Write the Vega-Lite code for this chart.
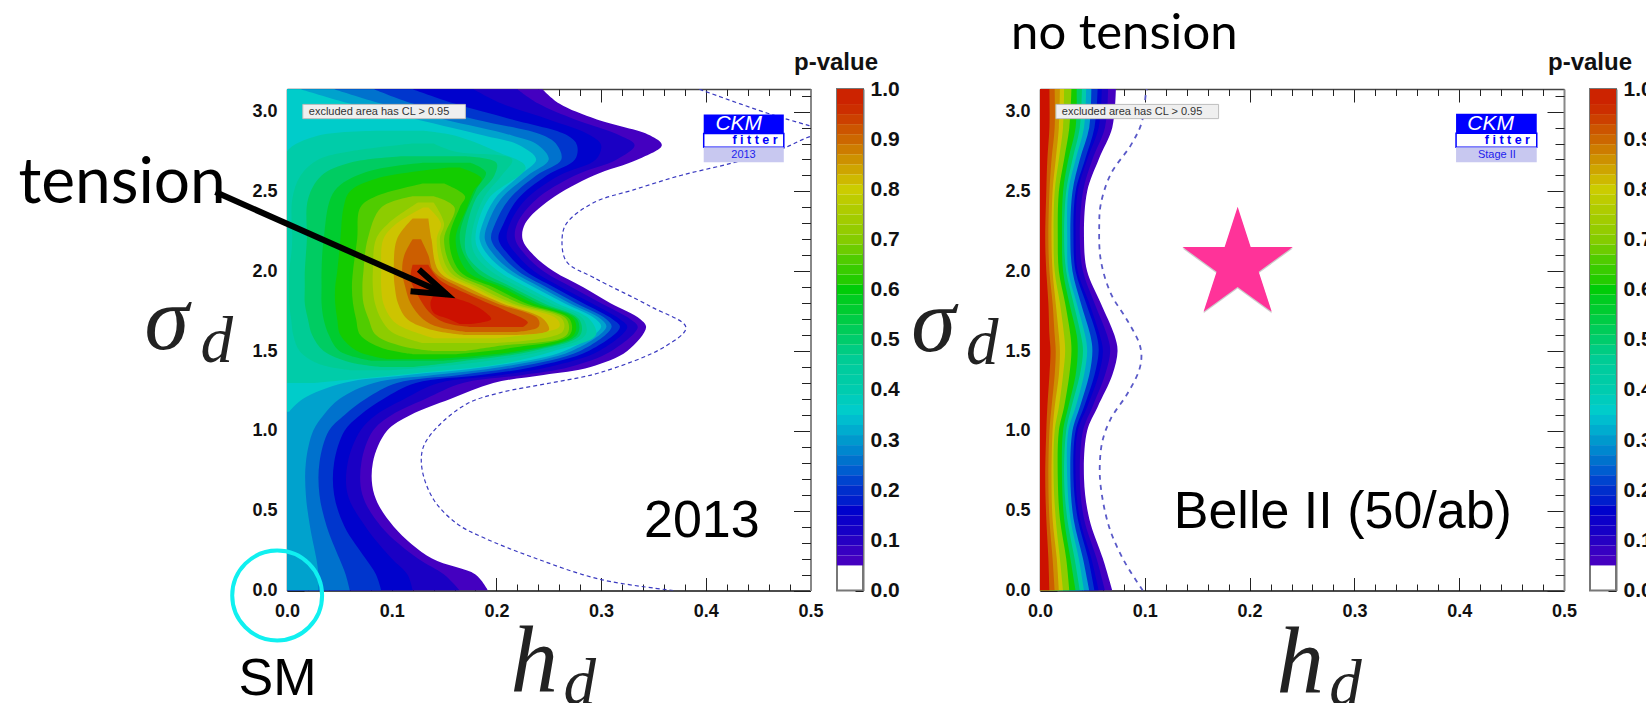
{"$schema":"https://vega.github.io/schema/vega-lite/v6.json","background":"white","autosize":{"type":"pad"},"padding":{"left":18,"top":10,"right":0,"bottom":0},
"config":{"view":{"stroke":null},"axis":{"grid":false,"title":null,"labelFont":"Liberation Sans","labelFontWeight":"bold","labelFontSize":18,"labelColor":"#111","tickColor":"#222","domainColor":"#444","domainWidth":1.5,"labelOverlap":false,"labelBound":false,"labelFlush":false,"zindex":1}},
"datasets":{
"levelsL":[
{"p":0.05,"y":3.14,"a":0,"b":0.244},{"p":0.05,"y":3.05,"a":0,"b":0.26},{"p":0.05,"y":2.95,"a":0,"b":0.296},{"p":0.05,"y":2.85,"a":0,"b":0.347},{"p":0.05,"y":2.79,"a":0,"b":0.358},{"p":0.05,"y":2.7,"a":0,"b":0.335},{"p":0.05,"y":2.6,"a":0,"b":0.293},{"p":0.05,"y":2.45,"a":0,"b":0.2515},{"p":0.05,"y":2.3,"a":0,"b":0.2276},{"p":0.05,"y":2.2,"a":0,"b":0.225},{"p":0.05,"y":2.1,"a":0,"b":0.2356},{"p":0.05,"y":2,"a":0,"b":0.2547},{"p":0.05,"y":1.9,"a":0,"b":0.283},{"p":0.05,"y":1.8,"a":0,"b":0.309},{"p":0.05,"y":1.7,"a":0,"b":0.3375},{"p":0.05,"y":1.65,"a":0,"b":0.343},{"p":0.05,"y":1.5,"a":0,"b":0.325},{"p":0.05,"y":1.4,"a":0,"b":0.29},{"p":0.05,"y":1.35,"a":0,"b":0.245},{"p":0.05,"y":1.3,"a":0,"b":0.197},{"p":0.05,"y":1.2,"a":0,"b":0.156},{"p":0.05,"y":1.1,"a":0,"b":0.118},{"p":0.05,"y":1,"a":0,"b":0.0955},{"p":0.05,"y":0.8,"a":0,"b":0.082},{"p":0.05,"y":0.6,"a":0,"b":0.0834},{"p":0.05,"y":0.4,"a":0,"b":0.102},{"p":0.05,"y":0.2,"a":0,"b":0.1385},{"p":0.05,"y":0.1,"a":0,"b":0.18},{"p":0.05,"y":0,"a":0,"b":0.192},
{"p":0.1,"y":3.14,"a":0,"b":0.22},{"p":0.1,"y":3.05,"a":0,"b":0.24},{"p":0.1,"y":2.95,"a":0,"b":0.275},{"p":0.1,"y":2.85,"a":0,"b":0.318},{"p":0.1,"y":2.79,"a":0,"b":0.332},{"p":0.1,"y":2.7,"a":0,"b":0.315},{"p":0.1,"y":2.6,"a":0,"b":0.275},{"p":0.1,"y":2.45,"a":0,"b":0.238},{"p":0.1,"y":2.3,"a":0,"b":0.22},{"p":0.1,"y":2.2,"a":0,"b":0.218},{"p":0.1,"y":2.1,"a":0,"b":0.228},{"p":0.1,"y":2,"a":0,"b":0.245},{"p":0.1,"y":1.9,"a":0,"b":0.272},{"p":0.1,"y":1.8,"a":0,"b":0.3},{"p":0.1,"y":1.7,"a":0,"b":0.328},{"p":0.1,"y":1.65,"a":0,"b":0.335},{"p":0.1,"y":1.5,"a":0,"b":0.31},{"p":0.1,"y":1.4,"a":0,"b":0.27},{"p":0.1,"y":1.35,"a":0,"b":0.225},{"p":0.1,"y":1.3,"a":0,"b":0.168},{"p":0.1,"y":1.2,"a":0,"b":0.132},{"p":0.1,"y":1.1,"a":0,"b":0.1},{"p":0.1,"y":1,"a":0,"b":0.082},{"p":0.1,"y":0.8,"a":0,"b":0.071},{"p":0.1,"y":0.6,"a":0,"b":0.072},{"p":0.1,"y":0.4,"a":0,"b":0.09},{"p":0.1,"y":0.2,"a":0,"b":0.125},{"p":0.1,"y":0.1,"a":0,"b":0.15},{"p":0.1,"y":0,"a":0,"b":0.165},
{"p":0.15,"y":3.14,"a":0,"b":0.178},{"p":0.15,"y":3.05,"a":0,"b":0.205},{"p":0.15,"y":2.95,"a":0,"b":0.25},{"p":0.15,"y":2.85,"a":0,"b":0.29},{"p":0.15,"y":2.79,"a":0,"b":0.3},{"p":0.15,"y":2.7,"a":0,"b":0.295},{"p":0.15,"y":2.6,"a":0,"b":0.26},{"p":0.15,"y":2.45,"a":0,"b":0.228},{"p":0.15,"y":2.3,"a":0,"b":0.213},{"p":0.15,"y":2.2,"a":0,"b":0.21},{"p":0.15,"y":2.1,"a":0,"b":0.22},{"p":0.15,"y":2,"a":0,"b":0.236},{"p":0.15,"y":1.9,"a":0,"b":0.262},{"p":0.15,"y":1.8,"a":0,"b":0.291},{"p":0.15,"y":1.7,"a":0,"b":0.318},{"p":0.15,"y":1.65,"a":0,"b":0.325},{"p":0.15,"y":1.5,"a":0,"b":0.298},{"p":0.15,"y":1.4,"a":0,"b":0.25},{"p":0.15,"y":1.35,"a":0,"b":0.205},{"p":0.15,"y":1.3,"a":0,"b":0.145},{"p":0.15,"y":1.2,"a":0,"b":0.112},{"p":0.15,"y":1.1,"a":0,"b":0.085},{"p":0.15,"y":1,"a":0,"b":0.07},{"p":0.15,"y":0.8,"a":0,"b":0.058},{"p":0.15,"y":0.6,"a":0,"b":0.058},{"p":0.15,"y":0.4,"a":0,"b":0.075},{"p":0.15,"y":0.2,"a":0,"b":0.1},{"p":0.15,"y":0.1,"a":0,"b":0.115},{"p":0.15,"y":0,"a":0,"b":0.12},
{"p":0.2,"y":3.14,"a":0,"b":0.12},{"p":0.2,"y":3.05,"a":0,"b":0.16},{"p":0.2,"y":2.95,"a":0,"b":0.215},{"p":0.2,"y":2.85,"a":0,"b":0.268},{"p":0.2,"y":2.79,"a":0,"b":0.277},{"p":0.2,"y":2.7,"a":0,"b":0.275},{"p":0.2,"y":2.6,"a":0,"b":0.248},{"p":0.2,"y":2.45,"a":0,"b":0.22},{"p":0.2,"y":2.3,"a":0,"b":0.207},{"p":0.2,"y":2.2,"a":0,"b":0.202},{"p":0.2,"y":2.1,"a":0,"b":0.212},{"p":0.2,"y":2,"a":0,"b":0.228},{"p":0.2,"y":1.9,"a":0,"b":0.255},{"p":0.2,"y":1.8,"a":0,"b":0.283},{"p":0.2,"y":1.7,"a":0,"b":0.311},{"p":0.2,"y":1.65,"a":0,"b":0.318},{"p":0.2,"y":1.5,"a":0,"b":0.288},{"p":0.2,"y":1.4,"a":0,"b":0.235},{"p":0.2,"y":1.35,"a":0,"b":0.185},{"p":0.2,"y":1.3,"a":0,"b":0.123},{"p":0.2,"y":1.2,"a":0,"b":0.092},{"p":0.2,"y":1.1,"a":0,"b":0.07},{"p":0.2,"y":1,"a":0,"b":0.055},{"p":0.2,"y":0.8,"a":0,"b":0.045},{"p":0.2,"y":0.6,"a":0,"b":0.045},{"p":0.2,"y":0.4,"a":0,"b":0.055},{"p":0.2,"y":0.2,"a":0,"b":0.075},{"p":0.2,"y":0.1,"a":0,"b":0.085},{"p":0.2,"y":0,"a":0,"b":0.09},
{"p":0.25,"y":3.14,"a":0,"b":0.083},{"p":0.25,"y":3.05,"a":0,"b":0.12},{"p":0.25,"y":2.95,"a":0,"b":0.18},{"p":0.25,"y":2.85,"a":0,"b":0.245},{"p":0.25,"y":2.79,"a":0,"b":0.258},{"p":0.25,"y":2.7,"a":0,"b":0.262},{"p":0.25,"y":2.6,"a":0,"b":0.238},{"p":0.25,"y":2.45,"a":0,"b":0.212},{"p":0.25,"y":2.3,"a":0,"b":0.199},{"p":0.25,"y":2.2,"a":0,"b":0.195},{"p":0.25,"y":2.1,"a":0,"b":0.205},{"p":0.25,"y":2,"a":0,"b":0.221},{"p":0.25,"y":1.9,"a":0,"b":0.248},{"p":0.25,"y":1.8,"a":0,"b":0.276},{"p":0.25,"y":1.7,"a":0,"b":0.305},{"p":0.25,"y":1.65,"a":0,"b":0.31},{"p":0.25,"y":1.5,"a":0,"b":0.28},{"p":0.25,"y":1.4,"a":0,"b":0.22},{"p":0.25,"y":1.35,"a":0,"b":0.165},{"p":0.25,"y":1.3,"a":0,"b":0.105},{"p":0.25,"y":1.2,"a":0,"b":0.075},{"p":0.25,"y":1.1,"a":0,"b":0.055},{"p":0.25,"y":1,"a":0,"b":0.04},{"p":0.25,"y":0.8,"a":0,"b":0.031},{"p":0.25,"y":0.6,"a":0,"b":0.031},{"p":0.25,"y":0.4,"a":0,"b":0.038},{"p":0.25,"y":0.2,"a":0,"b":0.05},{"p":0.25,"y":0.1,"a":0,"b":0.056},{"p":0.25,"y":0,"a":0,"b":0.06},
{"p":0.3,"y":3.14,"a":0,"b":0.045},{"p":0.3,"y":3.05,"a":0,"b":0.09},{"p":0.3,"y":2.95,"a":0,"b":0.15},{"p":0.3,"y":2.85,"a":0,"b":0.215},{"p":0.3,"y":2.79,"a":0,"b":0.24},{"p":0.3,"y":2.7,"a":0,"b":0.25},{"p":0.3,"y":2.6,"a":0,"b":0.23},{"p":0.3,"y":2.45,"a":0,"b":0.204},{"p":0.3,"y":2.3,"a":0,"b":0.192},{"p":0.3,"y":2.2,"a":0,"b":0.189},{"p":0.3,"y":2.1,"a":0,"b":0.198},{"p":0.3,"y":2,"a":0,"b":0.215},{"p":0.3,"y":1.9,"a":0,"b":0.242},{"p":0.3,"y":1.8,"a":0,"b":0.27},{"p":0.3,"y":1.7,"a":0,"b":0.3},{"p":0.3,"y":1.65,"a":0,"b":0.305},{"p":0.3,"y":1.5,"a":0,"b":0.272},{"p":0.3,"y":1.4,"a":0,"b":0.205},{"p":0.3,"y":1.35,"a":0,"b":0.14},{"p":0.3,"y":1.3,"a":0,"b":0.083},{"p":0.3,"y":1.2,"a":0,"b":0.05},{"p":0.3,"y":1.1,"a":0,"b":0.035},{"p":0.3,"y":1,"a":0,"b":0.025},{"p":0.3,"y":0.8,"a":0,"b":0.018},{"p":0.3,"y":0.6,"a":0,"b":0.018},{"p":0.3,"y":0.4,"a":0,"b":0.022},{"p":0.3,"y":0.2,"a":0,"b":0.028},{"p":0.3,"y":0.1,"a":0,"b":0.03},{"p":0.3,"y":0,"a":0,"b":0.03},
{"p":0.35,"y":3.14,"a":0,"b":0.013},{"p":0.35,"y":3.05,"a":0,"b":0.06},{"p":0.35,"y":2.95,"a":0,"b":0.124},{"p":0.35,"y":2.85,"a":0,"b":0.188},{"p":0.35,"y":2.79,"a":0,"b":0.222},{"p":0.35,"y":2.7,"a":0,"b":0.238},{"p":0.35,"y":2.6,"a":0,"b":0.222},{"p":0.35,"y":2.45,"a":0,"b":0.198},{"p":0.35,"y":2.3,"a":0,"b":0.187},{"p":0.35,"y":2.2,"a":0,"b":0.184},{"p":0.35,"y":2.1,"a":0,"b":0.192},{"p":0.35,"y":2,"a":0,"b":0.209},{"p":0.35,"y":1.9,"a":0,"b":0.236},{"p":0.35,"y":1.8,"a":0,"b":0.265},{"p":0.35,"y":1.7,"a":0,"b":0.295},{"p":0.35,"y":1.65,"a":0,"b":0.3},{"p":0.35,"y":1.5,"a":0,"b":0.265},{"p":0.35,"y":1.4,"a":0,"b":0.19},{"p":0.35,"y":1.35,"a":0,"b":0.115},{"p":0.35,"y":1.3,"a":0,"b":0.054},{"p":0.35,"y":1.2,"a":0,"b":0.015},{"p":0.35,"y":1.12,"a":0,"b":0.002},
{"p":0.4,"y":2.88,"a":0.1,"b":0.13},{"p":0.4,"y":2.85,"a":0.03,"b":0.16},{"p":0.4,"y":2.75,"a":0,"b":0.2},{"p":0.4,"y":2.65,"a":0,"b":0.228},{"p":0.4,"y":2.45,"a":0,"b":0.192},{"p":0.4,"y":2.2,"a":0,"b":0.18},{"p":0.4,"y":2.1,"a":0,"b":0.186},{"p":0.4,"y":2,"a":0,"b":0.202},{"p":0.4,"y":1.9,"a":0,"b":0.229},{"p":0.4,"y":1.8,"a":0,"b":0.258},{"p":0.4,"y":1.7,"a":0,"b":0.289},{"p":0.4,"y":1.6,"a":0,"b":0.295},{"p":0.4,"y":1.5,"a":0,"b":0.255},{"p":0.4,"y":1.42,"a":0,"b":0.205},{"p":0.4,"y":1.36,"a":0,"b":0.12},{"p":0.4,"y":1.3,"a":0,"b":0.025},
{"p":0.45,"y":2.8,"a":0.12,"b":0.14},{"p":0.45,"y":2.75,"a":0.06,"b":0.16},{"p":0.45,"y":2.7,"a":0.03,"b":0.215},{"p":0.45,"y":2.6,"a":0.013,"b":0.205},{"p":0.45,"y":2.45,"a":0.005,"b":0.187},{"p":0.45,"y":2.2,"a":0.005,"b":0.176},{"p":0.45,"y":2.1,"a":0.004,"b":0.18},{"p":0.45,"y":2,"a":0.002,"b":0.195},{"p":0.45,"y":1.9,"a":0.002,"b":0.222},{"p":0.45,"y":1.8,"a":0.002,"b":0.252},{"p":0.45,"y":1.7,"a":0.004,"b":0.283},{"p":0.45,"y":1.6,"a":0.006,"b":0.285},{"p":0.45,"y":1.5,"a":0.012,"b":0.245},{"p":0.45,"y":1.42,"a":0.03,"b":0.17},{"p":0.45,"y":1.38,"a":0.06,"b":0.1},
{"p":0.5,"y":2.72,"a":0.11,"b":0.17},{"p":0.5,"y":2.68,"a":0.06,"b":0.2},{"p":0.5,"y":2.6,"a":0.033,"b":0.198},{"p":0.5,"y":2.45,"a":0.02,"b":0.18},{"p":0.5,"y":2.2,"a":0.019,"b":0.17},{"p":0.5,"y":2.1,"a":0.018,"b":0.172},{"p":0.5,"y":2,"a":0.017,"b":0.186},{"p":0.5,"y":1.9,"a":0.017,"b":0.215},{"p":0.5,"y":1.8,"a":0.017,"b":0.245},{"p":0.5,"y":1.7,"a":0.02,"b":0.279},{"p":0.5,"y":1.6,"a":0.024,"b":0.28},{"p":0.5,"y":1.5,"a":0.035,"b":0.235},{"p":0.5,"y":1.43,"a":0.06,"b":0.16},{"p":0.5,"y":1.4,"a":0.09,"b":0.12},
{"p":0.55,"y":2.68,"a":0.13,"b":0.175},{"p":0.55,"y":2.62,"a":0.075,"b":0.19},{"p":0.55,"y":2.5,"a":0.045,"b":0.18},{"p":0.55,"y":2.2,"a":0.035,"b":0.165},{"p":0.55,"y":2,"a":0.033,"b":0.18},{"p":0.55,"y":1.9,"a":0.033,"b":0.21},{"p":0.55,"y":1.8,"a":0.033,"b":0.24},{"p":0.55,"y":1.7,"a":0.035,"b":0.277},{"p":0.55,"y":1.6,"a":0.04,"b":0.277},{"p":0.55,"y":1.5,"a":0.05,"b":0.228},{"p":0.55,"y":1.44,"a":0.08,"b":0.15},
{"p":0.6,"y":2.65,"a":0.155,"b":0.165},{"p":0.6,"y":2.58,"a":0.085,"b":0.186},{"p":0.6,"y":2.5,"a":0.06,"b":0.178},{"p":0.6,"y":2.4,"a":0.054,"b":0.172},{"p":0.6,"y":2.2,"a":0.051,"b":0.161},{"p":0.6,"y":2,"a":0.048,"b":0.172},{"p":0.6,"y":1.9,"a":0.046,"b":0.205},{"p":0.6,"y":1.8,"a":0.046,"b":0.235},{"p":0.6,"y":1.7,"a":0.048,"b":0.274},{"p":0.6,"y":1.6,"a":0.051,"b":0.274},{"p":0.6,"y":1.5,"a":0.067,"b":0.22},{"p":0.6,"y":1.45,"a":0.095,"b":0.14},
{"p":0.65,"y":2.55,"a":0.13,"b":0.15},{"p":0.65,"y":2.47,"a":0.085,"b":0.17},{"p":0.65,"y":2.4,"a":0.07,"b":0.165},{"p":0.65,"y":2.2,"a":0.067,"b":0.155},{"p":0.65,"y":2,"a":0.063,"b":0.165},{"p":0.65,"y":1.9,"a":0.062,"b":0.197},{"p":0.65,"y":1.8,"a":0.063,"b":0.228},{"p":0.65,"y":1.7,"a":0.066,"b":0.27},{"p":0.65,"y":1.6,"a":0.07,"b":0.27},{"p":0.65,"y":1.52,"a":0.09,"b":0.215},{"p":0.65,"y":1.48,"a":0.12,"b":0.16},
{"p":0.7,"y":2.47,"a":0.12,"b":0.14},{"p":0.7,"y":2.4,"a":0.09,"b":0.16},{"p":0.7,"y":2.2,"a":0.077,"b":0.15},{"p":0.7,"y":2,"a":0.073,"b":0.16},{"p":0.7,"y":1.9,"a":0.072,"b":0.19},{"p":0.7,"y":1.8,"a":0.073,"b":0.222},{"p":0.7,"y":1.7,"a":0.078,"b":0.267},{"p":0.7,"y":1.6,"a":0.085,"b":0.267},{"p":0.7,"y":1.53,"a":0.11,"b":0.2},{"p":0.7,"y":1.5,"a":0.14,"b":0.17},
{"p":0.75,"y":2.43,"a":0.125,"b":0.14},{"p":0.75,"y":2.3,"a":0.097,"b":0.15},{"p":0.75,"y":2.2,"a":0.085,"b":0.146},{"p":0.75,"y":2,"a":0.082,"b":0.155},{"p":0.75,"y":1.9,"a":0.082,"b":0.183},{"p":0.75,"y":1.8,"a":0.084,"b":0.215},{"p":0.75,"y":1.7,"a":0.09,"b":0.263},{"p":0.75,"y":1.62,"a":0.1,"b":0.263},{"p":0.75,"y":1.55,"a":0.13,"b":0.2},
{"p":0.8,"y":2.4,"a":0.13,"b":0.135},{"p":0.8,"y":2.3,"a":0.105,"b":0.147},{"p":0.8,"y":2.2,"a":0.092,"b":0.143},{"p":0.8,"y":2,"a":0.09,"b":0.15},{"p":0.8,"y":1.9,"a":0.09,"b":0.178},{"p":0.8,"y":1.8,"a":0.092,"b":0.21},{"p":0.8,"y":1.7,"a":0.1,"b":0.258},{"p":0.8,"y":1.65,"a":0.11,"b":0.26},{"p":0.8,"y":1.58,"a":0.14,"b":0.2},
{"p":0.85,"y":2.33,"a":0.12,"b":0.135},{"p":0.85,"y":2.2,"a":0.105,"b":0.138},{"p":0.85,"y":2,"a":0.102,"b":0.145},{"p":0.85,"y":1.9,"a":0.103,"b":0.172},{"p":0.85,"y":1.8,"a":0.106,"b":0.205},{"p":0.85,"y":1.7,"a":0.115,"b":0.245},{"p":0.85,"y":1.63,"a":0.14,"b":0.25},{"p":0.85,"y":1.6,"a":0.17,"b":0.21},
{"p":0.9,"y":2.2,"a":0.12,"b":0.128},{"p":0.9,"y":2.1,"a":0.112,"b":0.135},{"p":0.9,"y":2,"a":0.11,"b":0.14},{"p":0.9,"y":1.9,"a":0.113,"b":0.165},{"p":0.9,"y":1.8,"a":0.118,"b":0.2},{"p":0.9,"y":1.7,"a":0.13,"b":0.24},{"p":0.9,"y":1.65,"a":0.145,"b":0.24},{"p":0.9,"y":1.62,"a":0.17,"b":0.22},
{"p":0.95,"y":2.04,"a":0.12,"b":0.135},{"p":0.95,"y":1.95,"a":0.118,"b":0.145},{"p":0.95,"y":1.85,"a":0.125,"b":0.175},{"p":0.95,"y":1.75,"a":0.135,"b":0.21},{"p":0.95,"y":1.68,"a":0.15,"b":0.23},{"p":0.95,"y":1.65,"a":0.175,"b":0.225},
{"p":0.99,"y":1.85,"a":0.14,"b":0.15},{"p":0.99,"y":1.8,"a":0.137,"b":0.175},{"p":0.99,"y":1.74,"a":0.14,"b":0.19},{"p":0.99,"y":1.7,"a":0.155,"b":0.195},{"p":0.99,"y":1.67,"a":0.165,"b":0.175}
],
"levelsR":[
{"p":0.05,"y":3.1416,"b":0.0724},{"p":0.05,"y":2.9,"b":0.069},{"p":0.05,"y":2.7,"b":0.056},{"p":0.05,"y":2.5,"b":0.045},{"p":0.05,"y":2.2,"b":0.042},{"p":0.05,"y":2,"b":0.045},{"p":0.05,"y":1.8,"b":0.058},{"p":0.05,"y":1.6,"b":0.071},{"p":0.05,"y":1.5,"b":0.074},{"p":0.05,"y":1.35,"b":0.069},{"p":0.05,"y":1.15,"b":0.055},{"p":0.05,"y":1,"b":0.045},{"p":0.05,"y":0.7,"b":0.042},{"p":0.05,"y":0.45,"b":0.047},{"p":0.05,"y":0.2,"b":0.06},{"p":0.05,"y":0,"b":0.069},
{"p":0.1,"y":3.1416,"b":0.065},{"p":0.1,"y":2.9,"b":0.062},{"p":0.1,"y":2.7,"b":0.05},{"p":0.1,"y":2.5,"b":0.041},{"p":0.1,"y":2.2,"b":0.038},{"p":0.1,"y":2,"b":0.041},{"p":0.1,"y":1.8,"b":0.052},{"p":0.1,"y":1.6,"b":0.064},{"p":0.1,"y":1.5,"b":0.067},{"p":0.1,"y":1.35,"b":0.062},{"p":0.1,"y":1.15,"b":0.05},{"p":0.1,"y":1,"b":0.041},{"p":0.1,"y":0.7,"b":0.038},{"p":0.1,"y":0.45,"b":0.042},{"p":0.1,"y":0.2,"b":0.054},{"p":0.1,"y":0,"b":0.062},
{"p":0.15,"y":3.1416,"b":0.059},{"p":0.15,"y":2.9,"b":0.056},{"p":0.15,"y":2.7,"b":0.045},{"p":0.15,"y":2.5,"b":0.036},{"p":0.15,"y":2.2,"b":0.034},{"p":0.15,"y":2,"b":0.036},{"p":0.15,"y":1.8,"b":0.047},{"p":0.15,"y":1.6,"b":0.057},{"p":0.15,"y":1.5,"b":0.06},{"p":0.15,"y":1.35,"b":0.056},{"p":0.15,"y":1.15,"b":0.045},{"p":0.15,"y":1,"b":0.036},{"p":0.15,"y":0.7,"b":0.034},{"p":0.15,"y":0.45,"b":0.038},{"p":0.15,"y":0.2,"b":0.049},{"p":0.15,"y":0,"b":0.056},
{"p":0.2,"y":3.1416,"b":0.055},{"p":0.2,"y":2.9,"b":0.052},{"p":0.2,"y":2.7,"b":0.043},{"p":0.2,"y":2.5,"b":0.034},{"p":0.2,"y":2.2,"b":0.032},{"p":0.2,"y":2,"b":0.034},{"p":0.2,"y":1.8,"b":0.044},{"p":0.2,"y":1.6,"b":0.054},{"p":0.2,"y":1.5,"b":0.056},{"p":0.2,"y":1.35,"b":0.052},{"p":0.2,"y":1.15,"b":0.042},{"p":0.2,"y":1,"b":0.034},{"p":0.2,"y":0.7,"b":0.032},{"p":0.2,"y":0.45,"b":0.036},{"p":0.2,"y":0.2,"b":0.046},{"p":0.2,"y":0,"b":0.052},
{"p":0.3,"y":3.1416,"b":0.049},{"p":0.3,"y":2.9,"b":0.047},{"p":0.3,"y":2.7,"b":0.038},{"p":0.3,"y":2.5,"b":0.031},{"p":0.3,"y":2.2,"b":0.029},{"p":0.3,"y":2,"b":0.031},{"p":0.3,"y":1.8,"b":0.039},{"p":0.3,"y":1.6,"b":0.048},{"p":0.3,"y":1.5,"b":0.05},{"p":0.3,"y":1.35,"b":0.047},{"p":0.3,"y":1.15,"b":0.038},{"p":0.3,"y":1,"b":0.031},{"p":0.3,"y":0.7,"b":0.029},{"p":0.3,"y":0.45,"b":0.032},{"p":0.3,"y":0.2,"b":0.041},{"p":0.3,"y":0,"b":0.047},
{"p":0.4,"y":3.1416,"b":0.044},{"p":0.4,"y":2.9,"b":0.042},{"p":0.4,"y":2.7,"b":0.034},{"p":0.4,"y":2.5,"b":0.027},{"p":0.4,"y":2.2,"b":0.026},{"p":0.4,"y":2,"b":0.027},{"p":0.4,"y":1.8,"b":0.035},{"p":0.4,"y":1.6,"b":0.043},{"p":0.4,"y":1.5,"b":0.045},{"p":0.4,"y":1.35,"b":0.042},{"p":0.4,"y":1.15,"b":0.034},{"p":0.4,"y":1,"b":0.027},{"p":0.4,"y":0.7,"b":0.026},{"p":0.4,"y":0.45,"b":0.029},{"p":0.4,"y":0.2,"b":0.037},{"p":0.4,"y":0,"b":0.042},
{"p":0.5,"y":3.1416,"b":0.04},{"p":0.5,"y":2.9,"b":0.038},{"p":0.5,"y":2.7,"b":0.031},{"p":0.5,"y":2.5,"b":0.025},{"p":0.5,"y":2.2,"b":0.023},{"p":0.5,"y":2,"b":0.025},{"p":0.5,"y":1.8,"b":0.032},{"p":0.5,"y":1.6,"b":0.039},{"p":0.5,"y":1.5,"b":0.041},{"p":0.5,"y":1.35,"b":0.038},{"p":0.5,"y":1.15,"b":0.03},{"p":0.5,"y":1,"b":0.025},{"p":0.5,"y":0.7,"b":0.023},{"p":0.5,"y":0.45,"b":0.026},{"p":0.5,"y":0.2,"b":0.033},{"p":0.5,"y":0,"b":0.038},
{"p":0.6,"y":3.1416,"b":0.035},{"p":0.6,"y":2.9,"b":0.034},{"p":0.6,"y":2.7,"b":0.027},{"p":0.6,"y":2.5,"b":0.022},{"p":0.6,"y":2.2,"b":0.021},{"p":0.6,"y":2,"b":0.022},{"p":0.6,"y":1.8,"b":0.028},{"p":0.6,"y":1.6,"b":0.035},{"p":0.6,"y":1.5,"b":0.036},{"p":0.6,"y":1.35,"b":0.034},{"p":0.6,"y":1.15,"b":0.027},{"p":0.6,"y":1,"b":0.022},{"p":0.6,"y":0.7,"b":0.021},{"p":0.6,"y":0.45,"b":0.023},{"p":0.6,"y":0.2,"b":0.029},{"p":0.6,"y":0,"b":0.034},
{"p":0.7,"y":3.1416,"b":0.03},{"p":0.7,"y":2.9,"b":0.028},{"p":0.7,"y":2.7,"b":0.023},{"p":0.7,"y":2.5,"b":0.018},{"p":0.7,"y":2.2,"b":0.017},{"p":0.7,"y":2,"b":0.018},{"p":0.7,"y":1.8,"b":0.024},{"p":0.7,"y":1.6,"b":0.029},{"p":0.7,"y":1.5,"b":0.03},{"p":0.7,"y":1.35,"b":0.028},{"p":0.7,"y":1.15,"b":0.023},{"p":0.7,"y":1,"b":0.018},{"p":0.7,"y":0.7,"b":0.017},{"p":0.7,"y":0.45,"b":0.019},{"p":0.7,"y":0.2,"b":0.025},{"p":0.7,"y":0,"b":0.028},
{"p":0.8,"y":3.1416,"b":0.023},{"p":0.8,"y":2.9,"b":0.022},{"p":0.8,"y":2.7,"b":0.018},{"p":0.8,"y":2.5,"b":0.014},{"p":0.8,"y":2.2,"b":0.013},{"p":0.8,"y":2,"b":0.014},{"p":0.8,"y":1.8,"b":0.019},{"p":0.8,"y":1.6,"b":0.023},{"p":0.8,"y":1.5,"b":0.024},{"p":0.8,"y":1.35,"b":0.022},{"p":0.8,"y":1.15,"b":0.018},{"p":0.8,"y":1,"b":0.014},{"p":0.8,"y":0.7,"b":0.013},{"p":0.8,"y":0.45,"b":0.015},{"p":0.8,"y":0.2,"b":0.019},{"p":0.8,"y":0,"b":0.022},
{"p":0.85,"y":3.1416,"b":0.019},{"p":0.85,"y":2.9,"b":0.018},{"p":0.85,"y":2.7,"b":0.015},{"p":0.85,"y":2.5,"b":0.012},{"p":0.85,"y":2.2,"b":0.011},{"p":0.85,"y":2,"b":0.012},{"p":0.85,"y":1.8,"b":0.015},{"p":0.85,"y":1.6,"b":0.018},{"p":0.85,"y":1.5,"b":0.019},{"p":0.85,"y":1.35,"b":0.018},{"p":0.85,"y":1.15,"b":0.014},{"p":0.85,"y":1,"b":0.012},{"p":0.85,"y":0.7,"b":0.011},{"p":0.85,"y":0.45,"b":0.012},{"p":0.85,"y":0.2,"b":0.016},{"p":0.85,"y":0,"b":0.018},
{"p":0.9,"y":3.1416,"b":0.014},{"p":0.9,"y":2.9,"b":0.014},{"p":0.9,"y":2.7,"b":0.011},{"p":0.9,"y":2.5,"b":0.009},{"p":0.9,"y":2.2,"b":0.008},{"p":0.9,"y":2,"b":0.009},{"p":0.9,"y":1.8,"b":0.012},{"p":0.9,"y":1.6,"b":0.014},{"p":0.9,"y":1.5,"b":0.015},{"p":0.9,"y":1.35,"b":0.014},{"p":0.9,"y":1.15,"b":0.011},{"p":0.9,"y":1,"b":0.009},{"p":0.9,"y":0.7,"b":0.008},{"p":0.9,"y":0.45,"b":0.009},{"p":0.9,"y":0.2,"b":0.012},{"p":0.9,"y":0,"b":0.014},
{"p":0.99,"y":3.1416,"b":0.009},{"p":0.99,"y":2.9,"b":0.009},{"p":0.99,"y":2.7,"b":0.007},{"p":0.99,"y":2.5,"b":0.006},{"p":0.99,"y":2.2,"b":0.005},{"p":0.99,"y":2,"b":0.006},{"p":0.99,"y":1.8,"b":0.008},{"p":0.99,"y":1.6,"b":0.009},{"p":0.99,"y":1.5,"b":0.01},{"p":0.99,"y":1.35,"b":0.009},{"p":0.99,"y":1.15,"b":0.007},{"p":0.99,"y":1,"b":0.006},{"p":0.99,"y":0.7,"b":0.005},{"p":0.99,"y":0.45,"b":0.006},{"p":0.99,"y":0.2,"b":0.008},{"p":0.99,"y":0,"b":0.009}
],
"bar":[{"lo":0.05,"hi":0.07},{"lo":0.07,"hi":0.09},{"lo":0.09,"hi":0.11},{"lo":0.11,"hi":0.13},{"lo":0.13,"hi":0.15},{"lo":0.15,"hi":0.17},{"lo":0.17,"hi":0.19},{"lo":0.19,"hi":0.21},{"lo":0.21,"hi":0.23},{"lo":0.23,"hi":0.25},{"lo":0.25,"hi":0.27},{"lo":0.27,"hi":0.29},{"lo":0.29,"hi":0.31},{"lo":0.31,"hi":0.33},{"lo":0.33,"hi":0.35},{"lo":0.35,"hi":0.37},{"lo":0.37,"hi":0.39},{"lo":0.39,"hi":0.41},{"lo":0.41,"hi":0.43},{"lo":0.43,"hi":0.45},{"lo":0.45,"hi":0.47},{"lo":0.47,"hi":0.49},{"lo":0.49,"hi":0.51},{"lo":0.51,"hi":0.53},{"lo":0.53,"hi":0.55},{"lo":0.55,"hi":0.57},{"lo":0.57,"hi":0.59},{"lo":0.59,"hi":0.61},{"lo":0.61,"hi":0.63},{"lo":0.63,"hi":0.65},{"lo":0.65,"hi":0.67},{"lo":0.67,"hi":0.69},{"lo":0.69,"hi":0.71},{"lo":0.71,"hi":0.73},{"lo":0.73,"hi":0.75},{"lo":0.75,"hi":0.77},{"lo":0.77,"hi":0.79},{"lo":0.79,"hi":0.81},{"lo":0.81,"hi":0.83},{"lo":0.83,"hi":0.85},{"lo":0.85,"hi":0.87},{"lo":0.87,"hi":0.89},{"lo":0.89,"hi":0.91},{"lo":0.91,"hi":0.93},{"lo":0.93,"hi":0.95},{"lo":0.95,"hi":0.97},{"lo":0.97,"hi":1}],
"tickOrigin":[{"x":0,"y":0}]
},
"hconcat":[
{"width":523.5,"height":501.5,"layer":[
{"data":{"name":"levelsL"},"mark":{"type":"area","orient":"horizontal","interpolate":"catmull-rom","clip":true},"encoding":{"y":{"field":"y","type":"quantitative","scale":{"domain":[0,3.1416],"nice":false,"zero":false},"axis":null},"x":{"field":"b","type":"quantitative","stack":null,"scale":{"domain":[0,0.5],"nice":false,"zero":false},"axis":null},"x2":{"field":"a"},"detail":{"field":"p"},"color":{"field":"p","type":"quantitative","legend":null,"scale":{"domain":[0.05,0.1,0.15,0.2,0.25,0.3,0.35,0.4,0.45,0.5,0.55,0.6,0.65,0.7,0.75,0.8,0.85,0.9,0.95,0.99],"range":["#4400c0","#1a00c4","#0000cc","#0033cc","#0070cc","#00a0cc","#00cccc","#00ccaa","#00cc99","#00cc66","#00cc33","#00cc00","#44cc00","#88cc00","#aacc00","#cccc00","#cc9900","#cc6600","#cc3300","#cc1100"]}}}},
{"data":{"values":[{"i":1,"x":0.369,"y":0},{"i":2,"x":0.299,"y":0.07},{"i":3,"x":0.236,"y":0.205},{"i":4,"x":0.188,"y":0.33},{"i":5,"x":0.162,"y":0.42},{"i":6,"x":0.14,"y":0.57},{"i":7,"x":0.129,"y":0.76},{"i":8,"x":0.13,"y":0.895},{"i":9,"x":0.143,"y":1.02},{"i":10,"x":0.172,"y":1.17},{"i":11,"x":0.204,"y":1.24},{"i":12,"x":0.2515,"y":1.3},{"i":13,"x":0.299,"y":1.365},{"i":14,"x":0.3615,"y":1.53},{"i":15,"x":0.381,"y":1.648},{"i":16,"x":0.347,"y":1.78},{"i":17,"x":0.293,"y":1.96},{"i":18,"x":0.267,"y":2.06},{"i":19,"x":0.2627,"y":2.2},{"i":20,"x":0.267,"y":2.3},{"i":21,"x":0.293,"y":2.43},{"i":22,"x":0.331,"y":2.51},{"i":23,"x":0.376,"y":2.6},{"i":24,"x":0.4266,"y":2.68},{"i":25,"x":0.474,"y":2.77},{"i":26,"x":0.498,"y":2.84},{"i":27,"x":0.52,"y":2.877},{"i":28,"x":0.498,"y":2.914},{"i":29,"x":0.459,"y":2.99},{"i":30,"x":0.398,"y":3.13},{"i":31,"x":0.39,"y":3.15}]},"mark":{"type":"line","clip":true,"interpolate":"catmull-rom","stroke":"#3a3ac0","strokeWidth":1.2,"strokeDash":[4,3]},"encoding":{"order":{"field":"i"},"x":{"field":"x","type":"quantitative","axis":null},"y":{"field":"y","type":"quantitative","axis":null}}},
{"data":{"values":[{"x":0.0151,"x2":0.1704,"y":3.045,"y2":2.956}]},"mark":{"type":"rect","fill":"#efefef","stroke":"#bdbdbd"},"encoding":{"x":{"field":"x","type":"quantitative","axis":null},"x2":{"field":"x2"},"y":{"field":"y","type":"quantitative","axis":null},"y2":{"field":"y2"}}},
{"data":{"values":[{"x":0.0208,"y":3.0,"t":"excluded area has CL > 0.95"}]},"mark":{"type":"text","align":"left","baseline":"middle","font":"Liberation Sans","fontSize":11,"fill":"#333"},"encoding":{"x":{"field":"x","type":"quantitative","axis":null},"y":{"field":"y","type":"quantitative","axis":null},"text":{"field":"t"}}},
{"data":{"values":[{"x":0.398,"x2":0.4745,"y":2.982,"y2":2.863}]},"mark":{"type":"rect","fill":"#0000ff"},"encoding":{"x":{"field":"x","type":"quantitative","axis":null},"x2":{"field":"x2"},"y":{"field":"y","type":"quantitative","axis":null},"y2":{"field":"y2"}}},
{"data":{"values":[{"x":0.398,"x2":0.4745,"y":2.863,"y2":2.776}]},"mark":{"type":"rect","fill":"#ffffff","stroke":"#0000ff","strokeWidth":1.5},"encoding":{"x":{"field":"x","type":"quantitative","axis":null},"x2":{"field":"x2"},"y":{"field":"y","type":"quantitative","axis":null},"y2":{"field":"y2"}}},
{"data":{"values":[{"x":0.398,"x2":0.4745,"y":2.776,"y2":2.682}]},"mark":{"type":"rect","fill":"#c8c8f0"},"encoding":{"x":{"field":"x","type":"quantitative","axis":null},"x2":{"field":"x2"},"y":{"field":"y","type":"quantitative","axis":null},"y2":{"field":"y2"}}},
{"data":{"values":[{"x":0.4315,"y":2.92,"t":"CKM"}]},"mark":{"type":"text","align":"center","baseline":"middle","font":"Liberation Sans","fontStyle":"italic","fontSize":21,"fill":"white"},"encoding":{"x":{"field":"x","type":"quantitative","axis":null},"y":{"field":"y","type":"quantitative","axis":null},"text":{"field":"t"}}},
{"data":{"values":[{"x":0.447,"y":2.82,"t":"f i t t e r"}]},"mark":{"type":"text","align":"center","baseline":"middle","font":"Liberation Sans","fontWeight":"bold","fontSize":12.5,"fill":"#0000ff"},"encoding":{"x":{"field":"x","type":"quantitative","axis":null},"y":{"field":"y","type":"quantitative","axis":null},"text":{"field":"t"}}},
{"data":{"values":[{"x":0.436,"y":2.73,"t":"2013"}]},"mark":{"type":"text","align":"center","baseline":"middle","font":"Liberation Sans","fontSize":11,"fill":"#2222ee"},"encoding":{"x":{"field":"x","type":"quantitative","axis":null},"y":{"field":"y","type":"quantitative","axis":null},"text":{"field":"t"}}},
{"data":{"values":[{"s":"a","i":1,"x":-0.0683,"y":2.496},{"s":"a","i":2,"x":0.1526,"y":1.854},{"s":"b","i":1,"x":0.126,"y":2.011},{"s":"b","i":2,"x":0.1526,"y":1.854},{"s":"b","i":3,"x":0.118,"y":1.875}]},"mark":{"type":"line","stroke":"black","strokeWidth":6,"clip":false},"encoding":{"detail":{"field":"s"},"order":{"field":"i"},"x":{"field":"x","type":"quantitative","axis":null},"y":{"field":"y","type":"quantitative","axis":null}}},
{"data":{"values":[{"x":-0.0094,"y":-0.031}]},"mark":{"type":"point","filled":false,"stroke":"#10f0f0","strokeWidth":4,"size":8076,"opacity":1,"clip":false},"encoding":{"x":{"field":"x","type":"quantitative","axis":null},"y":{"field":"y","type":"quantitative","axis":null}}},
{"data":{"values":[{"x":-0.2565,"y":2.43,"t":"tension"}]},"mark":{"type":"text","align":"left","baseline":"alphabetic","font":"Lato","fontSize":64,"fill":"black"},"encoding":{"x":{"field":"x","type":"quantitative","axis":null},"y":{"field":"y","type":"quantitative","axis":null},"text":{"field":"t"}}},
{"data":{"values":[{"x":0.341,"y":0.338,"t":"2013"},{"x":-0.0463,"y":-0.652,"t":"SM"}]},"mark":{"type":"text","align":"left","baseline":"alphabetic","font":"Liberation Sans","fontSize":52,"fill":"black"},"encoding":{"x":{"field":"x","type":"quantitative","axis":null},"y":{"field":"y","type":"quantitative","axis":null},"text":{"field":"t"}}},
{"data":{"values":[{"x":-0.136,"y":1.51,"t":"σ"}]},"mark":{"type":"text","align":"left","baseline":"alphabetic","font":"Liberation Serif","fontStyle":"italic","fontSize":90,"fill":"#222"},"encoding":{"x":{"field":"x","type":"quantitative","axis":null},"y":{"field":"y","type":"quantitative","axis":null},"text":{"field":"t"}}},
{"data":{"values":[{"x":0.2135,"y":-0.633,"t":"h"}]},"mark":{"type":"text","align":"left","baseline":"alphabetic","font":"Liberation Serif","fontStyle":"italic","fontSize":95,"fill":"#222"},"encoding":{"x":{"field":"x","type":"quantitative","axis":null},"y":{"field":"y","type":"quantitative","axis":null},"text":{"field":"t"}}},
{"data":{"values":[{"x":-0.0826,"y":1.4286,"t":"d"},{"x":0.264,"y":-0.714,"t":"d"}]},"mark":{"type":"text","align":"left","baseline":"alphabetic","font":"Liberation Serif","fontStyle":"italic","fontSize":65,"fill":"#222"},"encoding":{"x":{"field":"x","type":"quantitative","axis":null},"y":{"field":"y","type":"quantitative","axis":null},"text":{"field":"t"}}},
{"data":{"name":"tickOrigin"},"mark":{"type":"point","opacity":0},"encoding":{"x":{"field":"x","type":"quantitative","axis":{"orient":"bottom","values":[0,0.1,0.2,0.3,0.4,0.5],"format":".1f","tickSize":-13,"labelPadding":25,"domainColor":"#111"}},"y":{"field":"y","type":"quantitative","axis":{"orient":"left","values":[0,0.5,1,1.5,2,2.5,3],"format":".1f","tickSize":-17,"labelPadding":27}}}},
{"data":{"name":"tickOrigin"},"mark":{"type":"point","opacity":0},"encoding":{"x":{"field":"x","type":"quantitative","axis":{"orient":"bottom","values":[0.02,0.04,0.06,0.08,0.12,0.14,0.16,0.18,0.22,0.24,0.26,0.28,0.32,0.34,0.36,0.38,0.42,0.44,0.46,0.48],"labels":false,"tickSize":-6.5,"domain":false}},"y":{"field":"y","type":"quantitative","axis":{"orient":"left","values":[0.1,0.2,0.3,0.4,0.6,0.7,0.8,0.9,1.1,1.2,1.3,1.4,1.6,1.7,1.8,1.9,2.1,2.2,2.3,2.4,2.6,2.7,2.8,2.9,3.1],"labels":false,"tickSize":-9,"domain":false}}}},
{"data":{"name":"tickOrigin"},"mark":{"type":"point","opacity":0},"encoding":{"x":{"field":"x","type":"quantitative","axis":{"orient":"top","values":[0,0.1,0.2,0.3,0.4,0.5],"labels":false,"tickSize":-13}},"y":{"field":"y","type":"quantitative","axis":{"orient":"right","values":[0,0.5,1,1.5,2,2.5,3],"labels":false,"tickSize":-17,"domainColor":"#888","domainWidth":2}}}},
{"data":{"name":"tickOrigin"},"mark":{"type":"point","opacity":0},"encoding":{"x":{"field":"x","type":"quantitative","axis":{"orient":"top","values":[0.02,0.04,0.06,0.08,0.12,0.14,0.16,0.18,0.22,0.24,0.26,0.28,0.32,0.34,0.36,0.38,0.42,0.44,0.46,0.48],"labels":false,"tickSize":-6.5,"domain":false}},"y":{"field":"y","type":"quantitative","axis":{"orient":"right","values":[0.1,0.2,0.3,0.4,0.6,0.7,0.8,0.9,1.1,1.2,1.3,1.4,1.6,1.7,1.8,1.9,2.1,2.2,2.3,2.4,2.6,2.7,2.8,2.9,3.1],"labels":false,"tickSize":-9,"domain":false}}}}
],"resolve":{"axis":{"x":"independent","y":"independent"}}},
{"width":26,"height":501.5,"title":{"text":"p-value","font":"Liberation Sans","fontSize":24,"fontWeight":"bold","anchor":"start","frame":"group","dx":-43,"offset":3,"color":"#111"},"view":{"stroke":"#777","strokeWidth":2},"layer":[
{"data":{"name":"bar"},"mark":{"type":"rect"},"encoding":{"y":{"field":"lo","type":"quantitative","scale":{"domain":[0,1],"nice":false,"zero":false},"axis":{"orient":"right","values":[0,0.1,0.2,0.3,0.4,0.5,0.6,0.7,0.8,0.9,1],"format":".1f","tickSize":-8,"labelPadding":15,"labelFontSize":21,"domainColor":"#777","domainWidth":2}},"y2":{"field":"hi"},"color":{"field":"lo","type":"quantitative","legend":null,"scale":{"domain":[0.05,0.09,0.14,0.2,0.3,0.36,0.45,0.5,0.6,0.7,0.8,0.9,0.97],"range":["#4400c0","#2200c0","#0000cc","#0033cc","#0088cc","#00cccc","#00cc88","#00cc55","#00cc00","#66cc00","#cccc00","#cc6600","#cc1100"]}}}}
]},
{"width":125,"height":501.5,"data":{"name":"tickOrigin"},"mark":{"type":"point","opacity":0},"encoding":{}},
{"width":524,"height":501.5,"layer":[
{"data":{"name":"levelsR"},"mark":{"type":"area","orient":"horizontal","interpolate":"catmull-rom","clip":true},"encoding":{"y":{"field":"y","type":"quantitative","scale":{"domain":[0,3.1416],"nice":false,"zero":false},"axis":null},"x":{"field":"b","type":"quantitative","stack":null,"scale":{"domain":[0,0.5],"nice":false,"zero":false},"axis":null},"x2":{"datum":0},"detail":{"field":"p"},"color":{"field":"p","type":"quantitative","legend":null,"scale":{"domain":[0.05,0.1,0.15,0.2,0.3,0.4,0.5,0.6,0.7,0.8,0.85,0.9,0.99],"range":["#4400c0","#1a00c4","#0000cc","#0055cc","#00aacc","#00cc99","#00cc55","#00cc00","#88cc00","#cccc00","#cc9900","#cc4400","#cc1100"]}}}},
{"data":{"values":[{"i":1,"x":0.098,"y":0},{"i":2,"x":0.096,"y":0.02},{"i":3,"x":0.08,"y":0.188},{"i":4,"x":0.066,"y":0.397},{"i":5,"x":0.058,"y":0.648},{"i":6,"x":0.0571,"y":0.795},{"i":7,"x":0.0597,"y":0.94},{"i":8,"x":0.0676,"y":1.077},{"i":9,"x":0.0835,"y":1.234},{"i":10,"x":0.0946,"y":1.38},{"i":11,"x":0.0968,"y":1.47},{"i":12,"x":0.0946,"y":1.55},{"i":13,"x":0.0835,"y":1.69},{"i":14,"x":0.0676,"y":1.86},{"i":15,"x":0.058,"y":2.07},{"i":16,"x":0.0565,"y":2.28},{"i":17,"x":0.058,"y":2.42},{"i":18,"x":0.0676,"y":2.61},{"i":19,"x":0.0867,"y":2.79},{"i":20,"x":0.097,"y":2.93},{"i":21,"x":0.101,"y":3.11},{"i":22,"x":0.102,"y":3.14}]},"mark":{"type":"line","clip":true,"interpolate":"catmull-rom","stroke":"#5a5ac8","strokeWidth":1.8,"strokeDash":[5,5]},"encoding":{"order":{"field":"i"},"x":{"field":"x","type":"quantitative","axis":null},"y":{"field":"y","type":"quantitative","axis":null}}},
{"data":{"values":[{"x":0.0152,"x2":0.1704,"y":3.045,"y2":2.956}]},"mark":{"type":"rect","fill":"#efefef","stroke":"#bdbdbd"},"encoding":{"x":{"field":"x","type":"quantitative","axis":null},"x2":{"field":"x2"},"y":{"field":"y","type":"quantitative","axis":null},"y2":{"field":"y2"}}},
{"data":{"values":[{"x":0.0208,"y":3.0,"t":"excluded area has CL > 0.95"}]},"mark":{"type":"text","align":"left","baseline":"middle","font":"Liberation Sans","fontSize":11,"fill":"#333"},"encoding":{"x":{"field":"x","type":"quantitative","axis":null},"y":{"field":"y","type":"quantitative","axis":null},"text":{"field":"t"}}},
{"data":{"values":[{"x":0.397,"x2":0.474,"y":2.987,"y2":2.864}]},"mark":{"type":"rect","fill":"#0000ff"},"encoding":{"x":{"field":"x","type":"quantitative","axis":null},"x2":{"field":"x2"},"y":{"field":"y","type":"quantitative","axis":null},"y2":{"field":"y2"}}},
{"data":{"values":[{"x":0.397,"x2":0.474,"y":2.864,"y2":2.777}]},"mark":{"type":"rect","fill":"#ffffff","stroke":"#0000ff","strokeWidth":1.5},"encoding":{"x":{"field":"x","type":"quantitative","axis":null},"x2":{"field":"x2"},"y":{"field":"y","type":"quantitative","axis":null},"y2":{"field":"y2"}}},
{"data":{"values":[{"x":0.397,"x2":0.474,"y":2.777,"y2":2.682}]},"mark":{"type":"rect","fill":"#c8c8f0"},"encoding":{"x":{"field":"x","type":"quantitative","axis":null},"x2":{"field":"x2"},"y":{"field":"y","type":"quantitative","axis":null},"y2":{"field":"y2"}}},
{"data":{"values":[{"x":0.43,"y":2.92,"t":"CKM"}]},"mark":{"type":"text","align":"center","baseline":"middle","font":"Liberation Sans","fontStyle":"italic","fontSize":21,"fill":"white"},"encoding":{"x":{"field":"x","type":"quantitative","axis":null},"y":{"field":"y","type":"quantitative","axis":null},"text":{"field":"t"}}},
{"data":{"values":[{"x":0.446,"y":2.82,"t":"f i t t e r"}]},"mark":{"type":"text","align":"center","baseline":"middle","font":"Liberation Sans","fontWeight":"bold","fontSize":12.5,"fill":"#0000ff"},"encoding":{"x":{"field":"x","type":"quantitative","axis":null},"y":{"field":"y","type":"quantitative","axis":null},"text":{"field":"t"}}},
{"data":{"values":[{"x":0.436,"y":2.73,"t":"Stage II"}]},"mark":{"type":"text","align":"center","baseline":"middle","font":"Liberation Sans","fontSize":11,"fill":"#2222ee"},"encoding":{"x":{"field":"x","type":"quantitative","axis":null},"y":{"field":"y","type":"quantitative","axis":null},"text":{"field":"t"}}},
{"data":{"values":[{"x":0.1886,"y":2.03}]},"mark":{"type":"point","filled":true,"fill":"#555","opacity":0.3,"stroke":null,"size":13456,"shape":"M0,-1L0.2245,-0.309L0.951,-0.309L0.363,0.118L0.588,0.809L0,0.382L-0.588,0.809L-0.363,0.118L-0.951,-0.309L-0.2245,-0.309Z"},"encoding":{"x":{"field":"x","type":"quantitative","axis":null},"y":{"field":"y","type":"quantitative","axis":null}}},
{"data":{"values":[{"x":0.1886,"y":2.04}]},"mark":{"type":"point","filled":true,"fill":"#ff3399","opacity":1,"stroke":null,"size":13456,"shape":"M0,-1L0.2245,-0.309L0.951,-0.309L0.363,0.118L0.588,0.809L0,0.382L-0.588,0.809L-0.363,0.118L-0.951,-0.309L-0.2245,-0.309Z"},"encoding":{"x":{"field":"x","type":"quantitative","axis":null},"y":{"field":"y","type":"quantitative","axis":null}}},
{"data":{"values":[{"x":-0.0276,"y":3.392,"t":"no tension"}]},"mark":{"type":"text","align":"left","baseline":"alphabetic","font":"Lato","fontSize":49,"fill":"black"},"encoding":{"x":{"field":"x","type":"quantitative","axis":null},"y":{"field":"y","type":"quantitative","axis":null},"text":{"field":"t"}}},
{"data":{"values":[{"x":0.1276,"y":0.394,"t":"Belle II (50/ab)"}]},"mark":{"type":"text","align":"left","baseline":"alphabetic","font":"Liberation Sans","fontSize":52,"fill":"black"},"encoding":{"x":{"field":"x","type":"quantitative","axis":null},"y":{"field":"y","type":"quantitative","axis":null},"text":{"field":"t"}}},
{"data":{"values":[{"x":-0.1229,"y":1.503,"t":"σ"}]},"mark":{"type":"text","align":"left","baseline":"alphabetic","font":"Liberation Serif","fontStyle":"italic","fontSize":90,"fill":"#222"},"encoding":{"x":{"field":"x","type":"quantitative","axis":null},"y":{"field":"y","type":"quantitative","axis":null},"text":{"field":"t"}}},
{"data":{"values":[{"x":0.2257,"y":-0.639,"t":"h"}]},"mark":{"type":"text","align":"left","baseline":"alphabetic","font":"Liberation Serif","fontStyle":"italic","fontSize":95,"fill":"#222"},"encoding":{"x":{"field":"x","type":"quantitative","axis":null},"y":{"field":"y","type":"quantitative","axis":null},"text":{"field":"t"}}},
{"data":{"values":[{"x":-0.0705,"y":1.421,"t":"d"},{"x":0.276,"y":-0.72,"t":"d"}]},"mark":{"type":"text","align":"left","baseline":"alphabetic","font":"Liberation Serif","fontStyle":"italic","fontSize":65,"fill":"#222"},"encoding":{"x":{"field":"x","type":"quantitative","axis":null},"y":{"field":"y","type":"quantitative","axis":null},"text":{"field":"t"}}},
{"data":{"name":"tickOrigin"},"mark":{"type":"point","opacity":0},"encoding":{"x":{"field":"x","type":"quantitative","axis":{"orient":"bottom","values":[0,0.1,0.2,0.3,0.4,0.5],"format":".1f","tickSize":-13,"labelPadding":25,"domainColor":"#111"}},"y":{"field":"y","type":"quantitative","axis":{"orient":"left","values":[0,0.5,1,1.5,2,2.5,3],"format":".1f","tickSize":-17,"labelPadding":27}}}},
{"data":{"name":"tickOrigin"},"mark":{"type":"point","opacity":0},"encoding":{"x":{"field":"x","type":"quantitative","axis":{"orient":"bottom","values":[0.02,0.04,0.06,0.08,0.12,0.14,0.16,0.18,0.22,0.24,0.26,0.28,0.32,0.34,0.36,0.38,0.42,0.44,0.46,0.48],"labels":false,"tickSize":-6.5,"domain":false}},"y":{"field":"y","type":"quantitative","axis":{"orient":"left","values":[0.1,0.2,0.3,0.4,0.6,0.7,0.8,0.9,1.1,1.2,1.3,1.4,1.6,1.7,1.8,1.9,2.1,2.2,2.3,2.4,2.6,2.7,2.8,2.9,3.1],"labels":false,"tickSize":-9,"domain":false}}}},
{"data":{"name":"tickOrigin"},"mark":{"type":"point","opacity":0},"encoding":{"x":{"field":"x","type":"quantitative","axis":{"orient":"top","values":[0,0.1,0.2,0.3,0.4,0.5],"labels":false,"tickSize":-13}},"y":{"field":"y","type":"quantitative","axis":{"orient":"right","values":[0,0.5,1,1.5,2,2.5,3],"labels":false,"tickSize":-17,"domainColor":"#888","domainWidth":2}}}},
{"data":{"name":"tickOrigin"},"mark":{"type":"point","opacity":0},"encoding":{"x":{"field":"x","type":"quantitative","axis":{"orient":"top","values":[0.02,0.04,0.06,0.08,0.12,0.14,0.16,0.18,0.22,0.24,0.26,0.28,0.32,0.34,0.36,0.38,0.42,0.44,0.46,0.48],"labels":false,"tickSize":-6.5,"domain":false}},"y":{"field":"y","type":"quantitative","axis":{"orient":"right","values":[0.1,0.2,0.3,0.4,0.6,0.7,0.8,0.9,1.1,1.2,1.3,1.4,1.6,1.7,1.8,1.9,2.1,2.2,2.3,2.4,2.6,2.7,2.8,2.9,3.1],"labels":false,"tickSize":-9,"domain":false}}}}
],"resolve":{"axis":{"x":"independent","y":"independent"}}},
{"width":26,"height":501.5,"title":{"text":"p-value","font":"Liberation Sans","fontSize":24,"fontWeight":"bold","anchor":"start","frame":"group","dx":-42,"offset":3,"color":"#111"},"view":{"stroke":"#777","strokeWidth":2},"layer":[
{"data":{"name":"bar"},"mark":{"type":"rect"},"encoding":{"y":{"field":"lo","type":"quantitative","scale":{"domain":[0,1],"nice":false,"zero":false},"axis":{"orient":"right","values":[0,0.1,0.2,0.3,0.4,0.5,0.6,0.7,0.8,0.9,1],"format":".1f","tickSize":-8,"labelPadding":15,"labelFontSize":21,"domainColor":"#777","domainWidth":2}},"y2":{"field":"hi"},"color":{"field":"lo","type":"quantitative","legend":null,"scale":{"domain":[0.05,0.09,0.14,0.2,0.3,0.36,0.45,0.5,0.6,0.7,0.8,0.9,0.97],"range":["#4400c0","#2200c0","#0000cc","#0033cc","#0088cc","#00cccc","#00cc88","#00cc55","#00cc00","#66cc00","#cccc00","#cc6600","#cc1100"]}}}}
]}
],"spacing":26,"bounds":"flush"}
